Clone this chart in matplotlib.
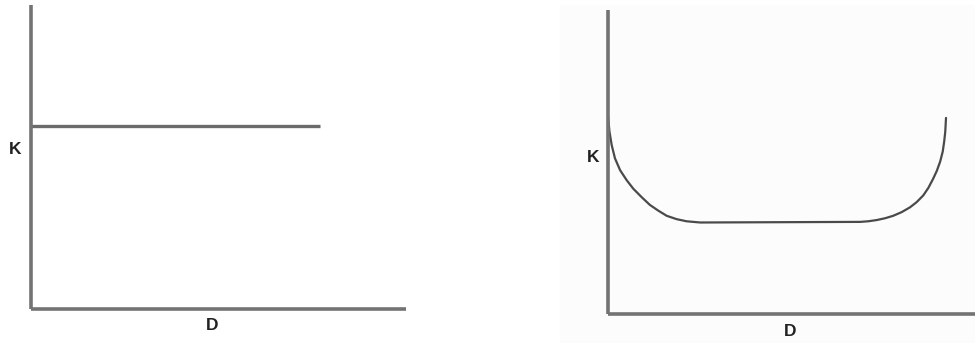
import matplotlib.pyplot as plt
from matplotlib.patches import Rectangle

# left panel: constant K over D
flat_d = [0.0, 7.71]
flat_k = [6.02, 6.02]

# right panel: bathtub-shaped K over D
tub_d = [0.00, 0.04, 0.10, 0.19, 0.33, 0.51, 0.69, 0.92, 1.14, 1.37,
         1.60, 1.87, 2.14, 2.51,
         6.87, 7.09, 7.32, 7.55, 7.77, 8.00, 8.23, 8.41, 8.59, 8.73,
         8.86, 8.96, 9.05, 9.12, 9.16, 9.19, 9.21]
tub_k = [6.51, 6.00, 5.56, 5.12, 4.73, 4.40, 4.12, 3.84, 3.59, 3.40,
         3.23, 3.12, 3.05, 3.01,
         3.03, 3.05, 3.09, 3.15, 3.23, 3.35, 3.51, 3.68, 3.90, 4.15,
         4.45, 4.71, 5.01, 5.34, 5.67, 6.00, 6.45]

axis_label_x = "D"
axis_label_y = "K"

W, H = 975, 343
fig = plt.figure(figsize=(W / 100, H / 100), dpi=100)
fig.patch.set_facecolor('white')

# faint off-white backdrop behind the right picture
fig.patches.append(Rectangle((560 / W, 0), (W - 560) / W, (H - 5) / H,
                             transform=fig.transFigure, color='#fcfcfc',
                             zorder=-10))

ax1 = fig.add_axes([31 / W, (H - 309) / H, 375 / W, 304 / H])
ax2 = fig.add_axes([608 / W, (H - 314) / H, 367 / W, 304 / H])

spine_col = '#737373'
for ax in (ax1, ax2):
    ax.set_xlim(0, 10)
    ax.set_ylim(0, 10)
    ax.patch.set_alpha(0)
    ax.set_zorder(5)
    ax.set_xticks([])
    ax.set_yticks([])
    for s in ('top', 'right'):
        ax.spines[s].set_visible(False)
    for s in ('left', 'bottom'):
        ax.spines[s].set_color(spine_col)
        ax.spines[s].set_linewidth(2.6)
        ax.spines[s].set_capstyle('butt')

ax1.plot(flat_d, flat_k, color='#6b6b6b', lw=2.4, solid_capstyle='butt',
         clip_on=False)
ax2.plot(tub_d, tub_k, color='#4a4a4a', lw=1.6, solid_capstyle='round',
         solid_joinstyle='round', clip_on=False)

txt = dict(fontsize=12.5, fontweight='bold', color='#222222',
           family='Liberation Sans', ha='center', va='center', zorder=6)
fig.text(15 / W, 1 - 150 / H, axis_label_y, **txt)
fig.text(212 / W, 1 - 325 / H, axis_label_x, **txt)
fig.text(593 / W, 1 - 157 / H, axis_label_y, **txt)
fig.text(790 / W, 1 - 331 / H, axis_label_x, **txt)

fig.savefig('out.png', dpi=100)
